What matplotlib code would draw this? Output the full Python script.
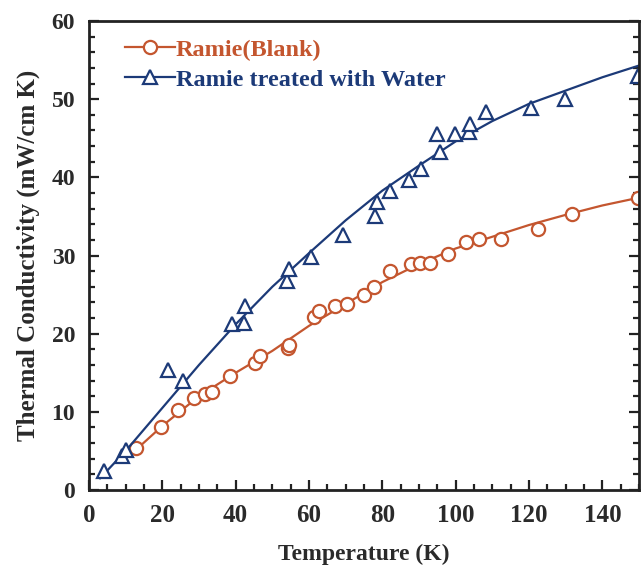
import matplotlib
matplotlib.use("Agg")
import matplotlib.pyplot as plt
from matplotlib.ticker import MultipleLocator

# --- data ---
blank_T = [12.8, 19.6, 24.2, 28.5, 31.5, 33.6, 38.4, 45.4, 46.6, 54.3, 54.5, 61.4, 62.8,
           67.1, 70.3, 74.9, 77.6, 82.2, 87.9, 90.2, 93.0, 97.9, 102.7, 106.4, 112.3,
           122.5, 131.7, 149.8]
blank_K = [5.4, 8.0, 10.2, 11.8, 12.3, 12.6, 14.6, 16.3, 17.1, 18.2, 18.6, 22.1, 22.9,
           23.6, 23.8, 24.9, 26.0, 28.0, 28.9, 29.1, 29.1, 30.2, 31.7, 32.1, 32.1,
           33.4, 35.3, 37.4]

water_T = [4.1, 9.1, 10.1, 21.6, 25.6, 39.1, 42.2, 42.5, 53.9, 54.5, 60.5, 69.4,
           78.1, 78.5, 82.2, 87.2, 90.6, 95.6, 95.0, 99.7, 103.6, 103.9, 108.2,
           120.5, 129.9, 149.6]
water_K = [2.4, 4.4, 5.1, 15.3, 14.0, 21.2, 21.4, 23.5, 26.8, 28.3, 29.8, 32.6,
           35.1, 36.8, 38.3, 39.7, 41.1, 43.2, 45.6, 45.6, 45.8, 46.8, 48.4,
           48.9, 50.0, 52.9]

blank_fit_T = [12, 20, 30, 40, 50, 60, 70, 80, 90, 100, 110, 120, 130, 140, 150]
blank_fit_K = [4.8, 8.2, 12.0, 15.0, 17.8, 21.0, 23.8, 26.6, 28.9, 30.9, 32.4, 33.9, 35.2, 36.4, 37.4]

water_fit_T = [3, 10, 20, 30, 40, 50, 60, 70, 80, 90, 100, 110, 120, 130, 140, 150]
water_fit_K = [1.5, 5.0, 10.5, 16.0, 21.2, 26.0, 30.3, 34.5, 38.3, 41.5, 44.6, 47.2, 49.4, 51.1, 52.8, 54.3]

labels = ["Ramie(Blank)", "Ramie treated with Water"]
c_orange = "#C4562F"
c_blue = "#1C3A78"

plt.rcParams['font.family'] = ['Liberation Serif', 'DejaVu Serif']
plt.rcParams['font.weight'] = 'bold'

fig = plt.figure(figsize=(6.43, 5.67), dpi=100)
ax = fig.add_axes([89/643, 77/567, 550/643, 469/567])

l1, = ax.plot(blank_fit_T, blank_fit_K, '-', color=c_orange, lw=1.6)
m1, = ax.plot(blank_T, blank_K, 'o', mfc='white', mec=c_orange, mew=1.6, ms=9.5, color=c_orange)
l2, = ax.plot(water_fit_T, water_fit_K, '-', color=c_blue, lw=1.6)
m2, = ax.plot(water_T, water_K, '^', mfc='white', mec=c_blue, mew=1.6, ms=10.5, color=c_blue)

ax.set_xlim(0, 150)
ax.set_ylim(0, 60)
ax.xaxis.set_major_locator(MultipleLocator(20))
ax.xaxis.set_minor_locator(MultipleLocator(5))
ax.yaxis.set_major_locator(MultipleLocator(10))
ax.yaxis.set_minor_locator(MultipleLocator(2))
ax.tick_params(which='both', direction='in', top=False, right=True, width=1.6, colors='#222222')
ax.tick_params(which='major', length=7)
ax.tick_params(which='minor', length=4.5)
ax.tick_params(axis='x', which='major', labelsize=18, pad=10)
ax.tick_params(axis='y', which='major', labelsize=17, pad=10)
for lab in ax.get_xticklabels() + ax.get_yticklabels():
    lab.set_fontweight('bold')
    lab.set_color('#2a2a2a')
for s in ax.spines.values():
    s.set_linewidth(2.0)
    s.set_color('#222222')

ax.set_xlabel("Temperature (K)", fontsize=17, fontweight='bold', color='#2a2a2a', labelpad=12)
ax.set_ylabel("Thermal Conductivity (mW/cm K)", fontsize=18, fontweight='bold', color='#2a2a2a', labelpad=8)

leg = ax.legend([(l1, m1), (l2, m2)], labels, loc='upper left', bbox_to_anchor=(0.065, 0.962),
                frameon=False, fontsize=17.5, handlelength=2.05, handletextpad=0.05,
                labelspacing=0.32, borderaxespad=0, borderpad=0)
for t, c in zip(leg.get_texts(), [c_orange, c_blue]):
    t.set_color(c)
    t.set_fontweight('bold')

fig.savefig("out.png", dpi=100)
